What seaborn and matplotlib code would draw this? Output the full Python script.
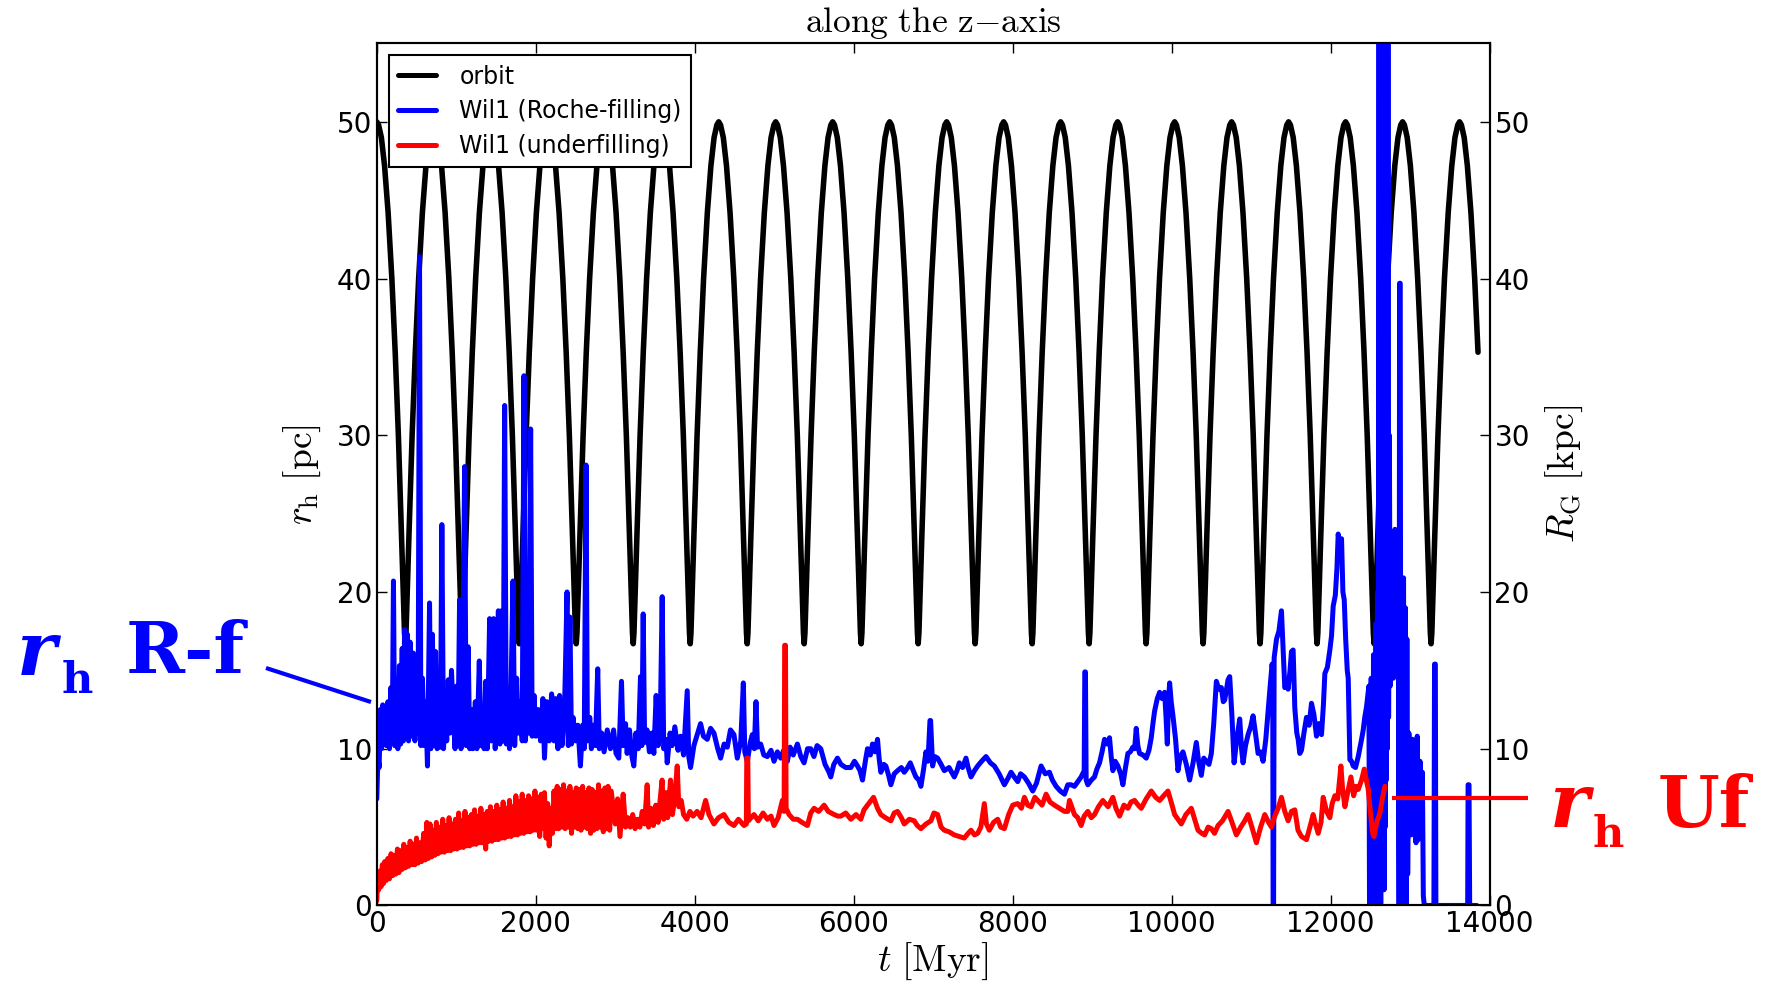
import matplotlib
matplotlib.use("Agg")
import matplotlib.pyplot as plt
from matplotlib.lines import Line2D
import pandas as pd
import seaborn as sns

# ---------------------------------------------------------------- data
# Galactocentric distance of the orbit: one radial period sampled from
# apocentre (offset 0) through pericentre and back, plus apocentre times.
orbit_apocentre_t = [0, 717, 1434, 2151, 2868, 3585, 4302, 5019, 5736, 6453,
                     7170, 7887, 8604, 9321, 10038, 10755, 11472, 12189,
                     12906, 13623]
orbit_cycle_offset = [0, 23, 58, 98, 143, 190, 232, 272, 312, 337, 349, 358.5,
                      368, 380, 405, 445, 485, 527, 574, 619, 659, 694]
orbit_cycle_R = [50.0, 49.8, 49.0, 47.2, 44.2, 40.0, 35.3, 30.0, 23.6, 19.4,
                 17.4, 16.7, 17.4, 19.4, 23.6, 30.0, 35.3, 40.0, 44.2, 47.2,
                 49.0, 49.8]
orbit_end_t = 13855

# Half-mass radius of the Roche-filling Wil1 model: (t [Myr], r_h [pc])
rochefilling_rh = [
    (0, 6.8), (15, 9.5), (30, 8.8), (45, 12.5), (60, 10.0), (75, 12.8),
    (90, 10.5), (105, 12.5), (120, 10.2), (140, 13.0), (160, 10.0),
    (178, 13.9), (195, 10.6), (210, 20.7), (225, 10.2), (245, 13.5),
    (265, 10.0), (285, 15.3), (300, 10.3), (320, 16.4), (335, 10.5),
    (350, 17.6), (365, 11.0), (385, 17.3), (400, 10.5), (420, 16.8),
    (440, 10.8), (460, 16.1), (480, 10.5), (500, 14.0), (520, 11.0),
    (538, 41.4), (555, 10.2), (575, 14.5), (595, 10.2), (615, 13.0),
    (638, 8.9), (664, 19.3), (680, 10.0), (700, 17.3), (720, 10.2),
    (740, 16.2), (760, 10.0), (780, 13.5), (800, 10.1), (819, 24.3),
    (840, 10.0), (860, 12.5), (880, 10.5), (900, 14.4), (920, 11.0),
    (940, 15.0), (960, 12.5), (985, 10.0), (1005, 14.0), (1022, 10.3),
    (1042, 19.5), (1060, 10.0), (1080, 13.0), (1105, 28.0), (1125, 10.2),
    (1150, 16.5), (1170, 10.0), (1190, 12.5), (1210, 10.0), (1240, 13.0),
    (1260, 10.0), (1290, 15.6), (1310, 10.2), (1330, 12.5), (1350, 10.0),
    (1370, 14.3), (1390, 10.0), (1420, 18.3), (1440, 10.5), (1470, 18.3),
    (1490, 10.0), (1510, 12.5), (1530, 18.8), (1550, 10.3), (1570, 18.8),
    (1590, 10.5), (1609, 31.9), (1630, 10.3), (1650, 13.0), (1670, 10.0),
    (1690, 14.0), (1714, 20.7), (1735, 10.2), (1760, 14.5), (1780, 11.0),
    (1800, 13.0), (1830, 10.5), (1852, 33.8), (1870, 10.5), (1890, 12.5),
    (1910, 11.0), (1936, 30.4), (1955, 10.8), (1980, 13.4), (2000, 10.8),
    (2030, 12.5), (2060, 10.5), (2090, 13.2), (2110, 9.4), (2140, 13.0),
    (2170, 10.5), (2200, 13.5), (2230, 10.5), (2250, 13.2), (2280, 10.0),
    (2300, 13.4), (2330, 10.2), (2360, 12.0), (2394, 20.0), (2410, 10.2),
    (2430, 18.4), (2450, 10.3), (2470, 12.0), (2500, 10.5), (2530, 11.5),
    (2562, 8.9), (2590, 11.5), (2610, 10.0), (2633, 28.1), (2650, 10.5),
    (2680, 12.0), (2700, 10.0), (2720, 11.5), (2750, 10.2), (2780, 15.1),
    (2800, 10.0), (2830, 11.0), (2860, 9.8), (2900, 11.2), (2940, 10.0),
    (2980, 11.2), (3010, 9.7), (3045, 9.4), (3079, 14.3), (3100, 10.2),
    (3130, 11.6), (3150, 9.7), (3180, 11.2), (3210, 9.5), (3234, 8.9),
    (3260, 11.0), (3290, 10.0), (3318, 14.6), (3335, 10.2), (3352, 18.6),
    (3370, 10.4), (3400, 11.2), (3430, 9.8), (3460, 11.0), (3486, 9.7),
    (3515, 13.4), (3540, 10.2), (3565, 11.0), (3591, 19.7), (3610, 10.0),
    (3640, 10.6), (3654, 9.1), (3690, 11.0), (3717, 10.2), (3750, 11.4),
    (3790, 9.9), (3822, 10.8), (3860, 9.6), (3906, 13.7), (3925, 9.5),
    (3948, 8.8), (3990, 10.2), (4032, 10.9), (4074, 11.6), (4110, 10.8),
    (4158, 10.6), (4200, 11.3), (4242, 11.0), (4290, 10.0), (4326, 9.4),
    (4370, 10.3), (4410, 10.1), (4450, 11.2), (4494, 10.9), (4536, 9.4),
    (4580, 10.5), (4612, 14.2), (4630, 9.8), (4662, 9.2), (4700, 10.4),
    (4725, 10.9), (4750, 10.0), (4771, 13.0), (4790, 10.1), (4830, 10.3),
    (4870, 9.6), (4914, 9.5), (4960, 9.9), (4998, 9.2), (5040, 9.8),
    (5082, 9.4), (5120, 9.9), (5166, 9.2), (5200, 10.1), (5240, 9.6),
    (5292, 10.3), (5335, 9.5), (5376, 9.1), (5420, 10.0), (5460, 10.0),
    (5500, 9.5), (5540, 10.2), (5586, 10.0), (5640, 9.0), (5690, 8.5),
    (5712, 8.2), (5750, 9.0), (5796, 9.4), (5840, 9.0), (5900, 8.8),
    (5964, 8.8), (6010, 9.2), (6048, 8.9), (6080, 8.6), (6111, 8.0),
    (6150, 9.3), (6174, 10.0), (6210, 9.6), (6237, 10.3), (6270, 9.8),
    (6300, 10.6), (6320, 9.4), (6342, 8.5), (6380, 9.0), (6405, 8.9),
    (6440, 8.3), (6468, 7.7), (6510, 8.4), (6552, 8.6), (6600, 8.8),
    (6636, 8.5), (6680, 8.8), (6712, 9.1), (6750, 8.6), (6783, 8.2),
    (6820, 8.0), (6846, 7.6), (6880, 8.7), (6909, 9.8), (6935, 9.2),
    (6960, 11.8), (6968, 11.8), (6993, 8.9), (7020, 9.5), (7056, 9.4),
    (7100, 9.0), (7140, 8.6), (7200, 8.8), (7266, 8.2), (7300, 8.6),
    (7329, 9.1), (7370, 8.8), (7413, 9.4), (7440, 8.8), (7476, 8.2),
    (7520, 8.6), (7560, 8.9), (7610, 9.2), (7665, 9.5), (7720, 9.1),
    (7770, 8.9), (7830, 8.4), (7896, 7.7), (7940, 8.1), (7980, 8.5),
    (8020, 8.2), (8064, 7.9), (8100, 8.4), (8148, 8.2), (8200, 7.8),
    (8253, 7.3), (8300, 7.8), (8358, 8.9), (8410, 8.4), (8463, 8.5),
    (8500, 8.0), (8547, 7.6), (8600, 7.3), (8652, 7.1), (8694, 7.7),
    (8736, 7.7), (8778, 7.6), (8820, 7.9), (8862, 8.2), (8900, 8.6),
    (8908, 14.9), (8916, 14.9), (8925, 8.0), (8946, 7.7), (8990, 8.0),
    (9030, 8.2), (9060, 8.7), (9093, 9.1), (9125, 9.8), (9156, 10.6),
    (9190, 10.3), (9219, 10.7), (9240, 9.5), (9261, 8.6), (9290, 9.2),
    (9324, 8.9), (9360, 8.4), (9387, 7.7), (9420, 8.8), (9450, 9.7),
    (9480, 9.8), (9513, 10.1), (9535, 10.0), (9555, 11.3), (9575, 10.2),
    (9597, 9.7), (9640, 9.6), (9681, 9.4), (9715, 9.9), (9744, 10.7),
    (9765, 11.6), (9786, 12.4), (9820, 13.2), (9849, 13.6), (9880, 13.2),
    (9912, 13.6), (9930, 12.0), (9946, 10.3), (9960, 12.9), (9975, 14.2),
    (9995, 13.0), (10017, 12.1), (10050, 10.6), (10080, 8.6), (10110, 9.5),
    (10143, 9.8), (10185, 9.0), (10227, 8.0), (10270, 9.1), (10311, 10.4),
    (10340, 9.2), (10374, 8.3), (10405, 9.4), (10437, 9.2), (10470, 9.0),
    (10500, 9.7), (10530, 11.6), (10563, 14.3), (10595, 13.8), (10626, 13.9),
    (10650, 13.0), (10668, 13.1), (10690, 13.8), (10710, 14.4), (10731, 14.6),
    (10760, 12.0), (10786, 9.1), (10820, 10.6), (10857, 11.9), (10880, 10.0),
    (10899, 9.1), (10930, 10.2), (10962, 10.9), (10995, 11.4), (11025, 12.1),
    (11060, 10.8), (11088, 9.7), (11120, 9.8), (11151, 9.2), (11185, 10.6),
    (11214, 12.4), (11240, 14.0), (11264, 15.4), (11272, 15.0), (11277, 0.0),
    (11283, 0.0), (11290, 15.8), (11320, 17.0), (11350, 17.5), (11382, 18.8),
    (11405, 16.2), (11424, 13.9), (11445, 14.1), (11466, 13.8), (11490, 15.0),
    (11508, 16.2), (11529, 16.3), (11550, 12.6), (11575, 11.0), (11592, 10.6),
    (11613, 9.7), (11634, 9.9), (11665, 11.0), (11697, 12.0), (11730, 11.5),
    (11760, 12.9), (11790, 12.2), (11823, 10.8), (11850, 11.6), (11886, 10.9),
    (11910, 12.8), (11928, 14.8), (11960, 15.2), (11991, 16.3), (12012, 17.2),
    (12033, 19.1), (12060, 19.8), (12080, 21.5), (12096, 23.7), (12120, 22.5),
    (12138, 23.4), (12155, 20.0), (12172, 19.5), (12190, 17.0), (12210, 15.0),
    (12222, 14.5), (12243, 9.3), (12264, 9.2), (12285, 8.9), (12314, 8.8),
    (12348, 9.5), (12390, 10.6), (12411, 11.2), (12430, 12.0), (12453, 12.7),
    (12470, 13.5), (12482, 14.0), (12490, 0.0), (12497, 12.5), (12504, 0.0),
    (12511, 14.5), (12518, 0.0), (12525, 10.0), (12532, 0.0), (12540, 16.0),
    (12548, 0.0), (12556, 13.0), (12564, 0.0), (12572, 18.0), (12580, 0.0),
    (12590, 20.0), (12600, 0.0), (12610, 60.0), (12617, 0.0), (12624, 60.0),
    (12631, 0.0), (12638, 60.0), (12645, 2.0), (12652, 60.0), (12659, 3.0),
    (12666, 60.0), (12673, 1.0), (12680, 60.0), (12687, 5.0), (12694, 60.0),
    (12701, 8.0), (12708, 60.0), (12715, 10.0), (12722, 60.0), (12730, 12.0),
    (12740, 30.0), (12750, 14.0), (12768, 18.0), (12790, 14.5), (12810, 24.0),
    (12831, 15.5), (12850, 22.0), (12862, 0.0), (12868, 39.7), (12876, 39.7),
    (12885, 0.0), (12898, 18.0), (12908, 0.0), (12918, 20.9), (12928, 0.0),
    (12940, 19.0), (12950, 0.0), (12960, 17.0), (12970, 2.0), (12985, 11.0),
    (12999, 9.2), (13015, 4.5), (13030, 10.6), (13045, 5.0), (13060, 10.4),
    (13075, 4.0), (13090, 10.8), (13105, 4.2), (13125, 9.2), (13140, 5.0),
    (13155, 8.5), (13167, 0.6), (13180, 0.0), (13300, 0.0), (13308, 15.4),
    (13318, 15.4), (13325, 0.0), (13725, 0.0), (13730, 7.7), (13742, 7.7),
    (13750, 0.0), (13839, 0.0),
]

# Half-mass radius of the underfilling Wil1 model: (t [Myr], r_h [pc])
underfilling_rh = [
    (0, 0.3), (10, 1.5), (25, 1.0), (40, 2.2), (55, 1.2), (70, 2.6),
    (85, 1.4), (100, 2.8), (120, 1.6), (140, 3.0), (160, 1.7), (180, 3.3),
    (200, 1.9), (220, 3.2), (240, 2.0), (260, 3.6), (280, 2.1), (300, 3.5),
    (320, 2.3), (340, 3.9), (360, 2.4), (380, 3.7), (400, 2.5), (420, 4.1),
    (440, 2.6), (460, 3.9), (480, 2.6), (500, 4.3), (520, 2.7), (545, 4.0),
    (565, 2.8), (590, 4.6), (610, 2.9), (630, 5.3), (650, 3.0), (670, 5.2),
    (690, 3.1), (710, 4.8), (730, 3.2), (750, 5.3), (770, 3.3), (790, 5.0),
    (810, 3.4), (830, 5.5), (850, 3.4), (870, 5.1), (890, 3.5), (910, 5.6),
    (930, 3.5), (950, 5.2), (970, 3.6), (990, 5.5), (1010, 3.6), (1030, 5.9),
    (1050, 3.7), (1070, 5.4), (1090, 3.7), (1110, 6.0), (1130, 3.8),
    (1150, 5.6), (1170, 3.8), (1190, 5.8), (1210, 3.9), (1230, 6.1),
    (1250, 3.9), (1270, 5.7), (1290, 4.0), (1310, 6.2), (1330, 4.0),
    (1350, 5.8), (1370, 3.6), (1390, 6.0), (1410, 4.1), (1430, 6.3),
    (1450, 4.1), (1470, 6.0), (1490, 4.2), (1510, 6.4), (1530, 4.2),
    (1550, 6.1), (1570, 4.3), (1590, 6.6), (1610, 4.3), (1630, 6.2),
    (1650, 4.4), (1670, 6.7), (1690, 4.4), (1710, 6.3), (1730, 4.5),
    (1750, 7.0), (1770, 4.5), (1790, 6.6), (1810, 4.6), (1830, 7.1),
    (1850, 4.6), (1870, 6.7), (1890, 4.7), (1910, 7.0), (1930, 4.7),
    (1950, 6.8), (1970, 4.8), (1990, 7.3), (2010, 4.8), (2030, 6.9),
    (2050, 4.4), (2070, 7.1), (2090, 4.9), (2110, 7.2), (2130, 4.3),
    (2150, 6.5), (2170, 3.8), (2190, 6.2), (2210, 4.6), (2230, 7.3),
    (2250, 4.9), (2270, 7.6), (2290, 4.9), (2310, 7.4), (2330, 5.0),
    (2350, 7.7), (2370, 4.9), (2390, 7.3), (2410, 5.0), (2430, 7.6),
    (2450, 4.6), (2470, 7.2), (2490, 5.0), (2510, 7.5), (2530, 4.9),
    (2550, 7.4), (2570, 4.8), (2590, 7.6), (2610, 5.0), (2630, 7.2),
    (2650, 4.9), (2670, 7.5), (2690, 4.6), (2710, 7.4), (2730, 4.8),
    (2750, 7.2), (2770, 4.9), (2790, 7.7), (2810, 5.0), (2830, 7.3),
    (2850, 4.7), (2870, 7.5), (2890, 4.9), (2910, 7.6), (2930, 4.8),
    (2950, 7.3), (3000, 5.2), (3030, 6.8), (3060, 4.4), (3100, 7.1),
    (3130, 5.0), (3160, 5.6), (3190, 5.0), (3220, 5.8), (3250, 4.9),
    (3280, 5.5), (3310, 5.0), (3340, 6.0), (3370, 5.2), (3402, 7.7),
    (3420, 5.0), (3450, 6.2), (3480, 5.1), (3510, 6.4), (3540, 5.3),
    (3570, 7.0), (3590, 8.0), (3610, 5.5), (3640, 7.2), (3660, 5.6),
    (3696, 8.0), (3720, 5.8), (3750, 6.9), (3780, 8.9), (3800, 6.3),
    (3830, 6.7), (3860, 5.8), (3900, 5.5), (3940, 6.0), (3980, 5.7),
    (4030, 6.0), (4080, 5.6), (4137, 6.7), (4180, 5.8), (4242, 5.2),
    (4300, 5.6), (4368, 5.8), (4430, 5.3), (4494, 5.1), (4550, 5.5),
    (4620, 5.1), (4650, 5.2), (4655, 9.4), (4668, 9.4), (4675, 5.4),
    (4746, 5.8), (4800, 5.4), (4860, 5.9), (4914, 5.5), (4960, 5.7),
    (4998, 5.1), (5050, 5.6), (5103, 6.7), (5125, 6.0), (5132, 16.6),
    (5142, 16.6), (5150, 6.2), (5187, 5.8), (5240, 5.5), (5292, 5.5),
    (5350, 5.3), (5418, 5.1), (5460, 5.9), (5502, 6.2), (5560, 6.0),
    (5628, 6.4), (5680, 6.0), (5754, 5.8), (5800, 5.7), (5838, 5.7),
    (5900, 5.9), (5964, 5.5), (6030, 5.8), (6090, 5.5), (6130, 6.1),
    (6174, 6.4), (6250, 6.9), (6300, 6.2), (6342, 5.8), (6400, 5.6),
    (6468, 5.4), (6510, 5.9), (6552, 6.0), (6600, 5.6), (6636, 5.2),
    (6700, 5.5), (6762, 5.4), (6800, 5.1), (6846, 4.9), (6910, 5.2),
    (6972, 5.4), (7010, 5.9), (7056, 5.8), (7100, 5.0), (7140, 4.8),
    (7200, 4.7), (7266, 4.5), (7330, 4.4), (7392, 4.3), (7440, 4.6),
    (7476, 4.8), (7520, 4.5), (7560, 4.6), (7600, 5.0), (7644, 6.5),
    (7670, 5.2), (7707, 4.8), (7760, 5.3), (7812, 5.5), (7850, 5.0),
    (7896, 4.9), (7950, 5.8), (8001, 6.4), (8064, 6.5), (8110, 6.2),
    (8148, 6.9), (8190, 6.4), (8232, 6.3), (8280, 6.9), (8316, 6.7),
    (8370, 6.4), (8421, 7.1), (8470, 6.6), (8526, 6.4), (8590, 6.2),
    (8652, 6.0), (8694, 6.0), (8715, 6.7), (8778, 5.8), (8820, 5.6),
    (8862, 5.1), (8900, 5.7), (8946, 6.0), (8990, 5.6), (9030, 5.8),
    (9080, 6.3), (9135, 6.7), (9200, 6.3), (9261, 6.9), (9300, 6.2),
    (9345, 5.7), (9400, 6.4), (9450, 6.2), (9490, 6.6), (9534, 6.7),
    (9580, 6.4), (9618, 6.2), (9680, 6.8), (9744, 7.3), (9800, 6.9),
    (9849, 6.7), (9900, 7.0), (9954, 7.3), (10000, 6.5), (10038, 5.8),
    (10080, 5.5), (10122, 5.2), (10180, 5.8), (10248, 6.2), (10290, 5.5),
    (10332, 4.8), (10380, 4.6), (10416, 4.5), (10460, 5.0), (10500, 4.9),
    (10540, 4.6), (10584, 5.1), (10640, 5.4), (10710, 6.0), (10760, 5.3),
    (10815, 4.5), (10870, 5.0), (10920, 5.4), (10962, 5.8), (11010, 5.0),
    (11067, 4.0), (11120, 5.0), (11172, 5.8), (11220, 5.3), (11256, 5.0),
    (11298, 5.7), (11340, 6.2), (11382, 6.9), (11424, 6.0), (11466, 5.4),
    (11508, 6.0), (11550, 6.1), (11590, 4.8), (11634, 4.4), (11697, 4.2),
    (11740, 5.0), (11781, 5.8), (11810, 5.2), (11844, 4.6), (11880, 5.3),
    (11907, 6.9), (11950, 6.0), (11991, 5.6), (12020, 6.5), (12054, 7.0),
    (12090, 6.8), (12130, 8.9), (12150, 7.5), (12180, 6.3), (12215, 7.2),
    (12256, 8.2), (12290, 7.0), (12320, 7.6), (12348, 7.4), (12390, 8.0),
    (12424, 8.7), (12450, 8.0), (12474, 7.4), (12500, 6.0), (12530, 4.6),
    (12545, 4.4), (12580, 5.3), (12621, 5.9), (12650, 6.8), (12684, 7.6),
]

series_labels = ["orbit", "Wil1 (Roche-filling)", "Wil1 (underfilling)"]
x_ticks = [0, 2000, 4000, 6000, 8000, 10000, 12000, 14000]
y_ticks = [0, 10, 20, 30, 40, 50]

# ------------------------------------------------------------- tables
orbit_t, orbit_R = [], []
for apo in orbit_apocentre_t:
    for dt, R in zip(orbit_cycle_offset, orbit_cycle_R):
        if apo + dt <= orbit_end_t:
            orbit_t.append(apo + dt)
            orbit_R.append(R)
orbit_df = pd.DataFrame({"t": orbit_t, "R": orbit_R})
rf_df = pd.DataFrame(rochefilling_rh, columns=["t", "rh"])
uf_df = pd.DataFrame(underfilling_rh, columns=["t", "rh"])

# -------------------------------------------------------------- style
sns.set_theme(style="ticks")
plt.rcParams.update({
    "font.family": ["DejaVu Sans"],
    "mathtext.fontset": "cm",
    "axes.edgecolor": "black",
    "axes.linewidth": 1.5,
    "axes.labelcolor": "black",
    "text.color": "black",
    "xtick.color": "black",
    "ytick.color": "black",
    "xtick.direction": "in",
    "ytick.direction": "in",
    "xtick.top": True,
    "xtick.major.size": 7.5,
    "ytick.major.size": 7.5,
    "xtick.major.width": 1.0,
    "ytick.major.width": 1.0,
    "xtick.labelsize": 20,
    "ytick.labelsize": 20,
})

W, H = 1768, 990
fig = plt.figure(figsize=(W / 100, H / 100), dpi=100)
ax = fig.add_axes([0.2131, 0.0854, 0.6294, 0.8707])
ax_r = ax.twinx()
ax.set_zorder(ax_r.get_zorder() + 1)
ax.patch.set_visible(False)

sns.lineplot(data=orbit_df, x="t", y="R", ax=ax_r, color="black",
             linewidth=4.0, estimator=None, sort=False)
sns.lineplot(data=rf_df, x="t", y="rh", ax=ax, color="blue",
             linewidth=3.6, estimator=None, sort=False)
sns.lineplot(data=uf_df, x="t", y="rh", ax=ax, color="red",
             linewidth=3.6, estimator=None, sort=False)

ax.set_xlim(0, 14000)
ax.set_ylim(0, 55)
ax_r.set_ylim(0, 55)
ax.set_xticks(x_ticks)
ax.set_yticks(y_ticks)
ax_r.set_yticks(y_ticks)
ax_r.tick_params(axis="y", direction="in", length=7.5, width=1.0,
                 labelsize=20, right=True)
for a in (ax, ax_r):
    for s in a.spines.values():
        s.set_linewidth(1.5)
        s.set_color("black")

ax.set_xlabel(r"$t\ \mathrm{[Myr]}$", fontsize=27, labelpad=2)
ax.set_ylabel(r"$r_{\rm h}\ \mathrm{[pc]}$", fontsize=27, labelpad=10)
ax_r.set_ylabel(r"$R_{\rm G}\ \mathrm{[kpc]}$", fontsize=27, labelpad=10)
ax.set_title(r"$\mathrm{along\ the\ z{-}axis}$", fontsize=25.5, pad=8)

handles = [ax_r.get_lines()[0], ax.get_lines()[0], ax.get_lines()[1]]
leg = ax.legend(handles, series_labels, loc="upper left", fontsize=17,
                frameon=True, fancybox=False, framealpha=1,
                edgecolor="black", borderaxespad=0.5, borderpad=0.4,
                handlelength=1.6, handletextpad=1.0, labelspacing=0.45)
leg.get_frame().set_linewidth(1.5)
for line in leg.get_lines():
    line.set_linewidth(3.6)


# ------------------------------------------------- side annotations
def fx(x, y):
    return x / W, 1 - y / H


serif = "DejaVu Serif"
fig.add_artist(Line2D([fx(266, 668)[0], fx(371, 702)[0]],
                      [fx(266, 668)[1], fx(371, 702)[1]],
                      transform=fig.transFigure, color="blue", lw=3,
                      solid_capstyle="butt"))
fig.text(*fx(17, 675), "r", color="blue", family=serif, weight="bold",
         style="italic", fontsize=54, va="baseline")
fig.text(*fx(62, 693), "h", color="blue", family=serif, weight="bold",
         fontsize=31, va="baseline")
fig.text(*fx(126, 673), "R-f", color="blue", family=serif, weight="bold",
         fontsize=51, va="baseline")

fig.add_artist(Line2D([fx(1392, 798)[0], fx(1528, 798)[0]],
                      [fx(1392, 798)[1], fx(1528, 798)[1]],
                      transform=fig.transFigure, color="red", lw=3,
                      solid_capstyle="butt"))
fig.text(*fx(1550, 827), "r", color="red", family=serif, weight="bold",
         style="italic", fontsize=54, va="baseline")
fig.text(*fx(1593, 847), "h", color="red", family=serif, weight="bold",
         fontsize=31, va="baseline")
fig.text(*fx(1658, 827), "Uf", color="red", family=serif, weight="bold",
         fontsize=51, va="baseline")

fig.savefig("out.png", dpi=100)
